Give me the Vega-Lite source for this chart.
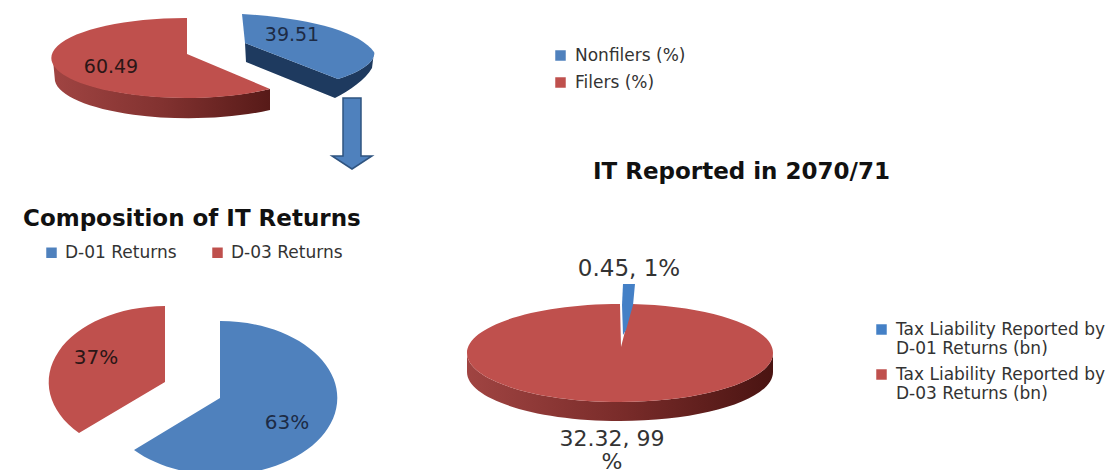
{
  "$schema": "https://vega.github.io/schema/vega-lite/v6.json",
  "background": "white",
  "padding": 0,
  "spacing": 0,
  "bounds": "flush",
  "config": {"view": {"stroke": null}, "concat": {"spacing": 0}},
  "resolve": {"scale": {"color": "independent", "shape": "independent"}, "legend": {"color": "independent"}},
  "datasets": {
    "filing": [
      {"category": "Nonfilers (%)", "value": 39.51},
      {"category": "Filers (%)", "value": 60.49}
    ],
    "returns": [
      {"category": "D-01 Returns", "value": 63, "label": "63%"},
      {"category": "D-03 Returns", "value": 37, "label": "37%"}
    ],
    "liability": [
      {"category": "Tax Liability Reported by D-01 Returns (bn)", "value": 0.45, "label": "0.45, 1%"},
      {"category": "Tax Liability Reported by D-03 Returns (bn)", "value": 32.32, "label": "32.32, 99\n%"}
    ]
  },
  "vconcat": [
    {
      "width": 1118,
      "height": 172,
      "data": {"name": "filing"},
      "layer": [
        {
          "transform": [{"filter": "datum.category === 'Filers (%)'"}],
          "mark": {"type": "point", "filled": true, "opacity": 1, "size": 4,
            "shape": "M-506,-26 A134,40 0 0 0 -289,3 L-289,24 A134,40 0 0 1 -504,-5 Z",
            "color": {"gradient": "linear", "x1": 0, "y1": 0, "x2": 1, "y2": 0, "stops": [
              {"offset": 0, "color": "#a04442"}, {"offset": 0.5, "color": "#823230"}, {"offset": 1, "color": "#571a18"}]}}
        },
        {
          "transform": [{"filter": "datum.category === 'Nonfilers (%)'"}],
          "mark": {"type": "point", "filled": true, "opacity": 1, "size": 4, "color": "#1e3a5f",
            "shape": "M-314,-43 L-313,-24 L-224,12 L-221,-7 Z M-221,-7 C-199,-14 -183,-24 -185,-34 L-187,-18 C-194,-6 -209,4 -224,12 Z"}
        },
        {
          "mark": {"type": "point", "filled": true, "opacity": 1, "size": 4},
          "encoding": {
            "color": {"field": "category", "type": "nominal", "title": null,
              "scale": {"domain": ["Nonfilers (%)", "Filers (%)"], "range": ["#4f81bd", "#bf504d"]},
              "legend": {"orient": "none", "legendX": 552, "legendY": 47, "symbolType": "square", "symbolSize": 110,
                "labelFont": "DejaVu Sans", "labelFontSize": 17, "labelColor": "#333333", "rowPadding": 9, "labelOffset": 6, "labelLimit": 300}},
            "shape": {"field": "value", "type": "nominal", "legend": null,
              "scale": {"domain": [39.51, 60.49], "range": [
                "M-314,-43 L-317,-72 C-249,-68 -199,-54 -185,-34 C-183,-24 -199,-14 -221,-7 Z",
                "M-372,-32 L-372,-68 A134,40 0 1 0 -289,3 Z"]}}
          }
        },
        {
          "transform": [{"filter": "datum.category === 'Nonfilers (%)'"}],
          "mark": {"type": "text", "font": "DejaVu Sans", "fontSize": 19, "color": "#1d2b45", "dx": -267, "dy": -51, "baseline": "middle"},
          "encoding": {"text": {"field": "value", "type": "quantitative", "format": ".2f"}}
        },
        {
          "transform": [{"filter": "datum.category === 'Filers (%)'"}],
          "mark": {"type": "text", "font": "DejaVu Sans", "fontSize": 19, "color": "#2b1616", "dx": -448, "dy": -19, "baseline": "middle"},
          "encoding": {"text": {"field": "value", "type": "quantitative", "format": ".2f"}}
        },
        {
          "data": {"values": [{"item": "arrow"}]},
          "mark": {"type": "point", "filled": true, "opacity": 1, "size": 4, "color": "#4f81bd", "stroke": "#2f5480", "strokeWidth": 1.5,
            "shape": "M-216,12 L-198,12 L-198,70 L-187,70 L-207,83 L-227,70 L-216,70 Z"},
          "encoding": {}
        }
      ]
    },
    {
      "spacing": 0,
      "bounds": "flush",
      "resolve": {"scale": {"color": "independent", "shape": "independent"}, "legend": {"color": "independent"}},
      "hconcat": [
        {
          "width": 440,
          "height": 298,
          "title": {"text": "Composition of IT Returns", "font": "DejaVu Sans", "fontWeight": "bold", "fontSize": 23, "color": "#111111",
            "anchor": "start", "frame": "group", "baseline": "alphabetic", "offset": -77, "dx": 23},
          "data": {"name": "returns"},
          "layer": [
            {
              "mark": {"type": "point", "filled": true, "opacity": 1, "size": 4, "clip": true},
              "encoding": {
                "color": {"field": "category", "type": "nominal", "title": null,
                  "scale": {"domain": ["D-01 Returns", "D-03 Returns"], "range": ["#4f81bd", "#bf504d"]},
                  "legend": {"orient": "none", "legendX": 43, "legendY": 72, "direction": "horizontal", "columns": 2, "symbolType": "square", "symbolSize": 110,
                    "labelFont": "DejaVu Sans", "labelFontSize": 17, "labelColor": "#333333", "labelOffset": 5, "columnPadding": 32, "labelLimit": 300}},
                "shape": {"field": "value", "type": "nominal", "legend": null,
                  "scale": {"domain": [63, 37], "range": [
                    "M0,77 L0,0 A117,77 0 1 1 -86,129 Z",
                    "M-55,61 L-55,-15 A117,76 0 0 0 -141,112 Z"]}}
              }
            },
            {
              "transform": [{"filter": "datum.category === 'D-01 Returns'"}],
              "mark": {"type": "text", "font": "DejaVu Sans", "fontSize": 20, "color": "#1d2b45", "dx": 67, "dy": 102, "baseline": "middle"},
              "encoding": {"text": {"field": "label", "type": "nominal"}}
            },
            {
              "transform": [{"filter": "datum.category === 'D-03 Returns'"}],
              "mark": {"type": "text", "font": "DejaVu Sans", "fontSize": 20, "color": "#2b1616", "dx": -124, "dy": 37, "baseline": "middle"},
              "encoding": {"text": {"field": "label", "type": "nominal"}}
            }
          ]
        },
        {
          "width": 678,
          "height": 298,
          "title": {"text": "IT Reported in 2070/71", "font": "DejaVu Sans", "fontWeight": "bold", "fontSize": 23, "color": "#111111",
            "anchor": "start", "frame": "group", "baseline": "alphabetic", "offset": -30, "dx": 153},
          "data": {"name": "liability"},
          "layer": [
            {
              "transform": [{"filter": "datum.value > 1"}],
              "mark": {"type": "point", "filled": true, "opacity": 1, "size": 4,
                "shape": "M-312,32 A153,49 0 0 0 -6,32 L-6,51 A153,49 0 0 1 -312,51 Z",
                "color": {"gradient": "linear", "x1": 0, "y1": 0, "x2": 1, "y2": 0, "stops": [
                  {"offset": 0, "color": "#a04442"}, {"offset": 0.5, "color": "#7a2c2a"}, {"offset": 1, "color": "#4a1412"}]}}
            },
            {
              "mark": {"type": "point", "filled": true, "opacity": 1, "size": 4},
              "encoding": {
                "order": {"field": "value", "type": "quantitative", "sort": "descending"},
                "color": {"field": "category", "type": "nominal", "title": null,
                  "scale": {"domain": ["Tax Liability Reported by D-01 Returns (bn)", "Tax Liability Reported by D-03 Returns (bn)"], "range": ["#4480c6", "#bf504d"]},
                  "legend": {"orient": "none", "legendX": 433, "legendY": 149, "symbolType": "square", "symbolSize": 110,
                    "labelFont": "DejaVu Sans", "labelFontSize": 17, "labelColor": "#333333", "labelOffset": 6, "rowPadding": 8, "labelLimit": 300,
                    "labelExpr": "[substring(datum.label,0,25), substring(datum.label,26)]"}},
                "shape": {"field": "value", "type": "nominal", "legend": null,
                  "scale": {"domain": [0.45, 32.32], "range": [
                    "M-156,-37 L-144,-37 L-146,-16 L-153,9 L-156,14 L-157,-16 Z",
                    "M-158,26 L-159,-17 A153,49 0 0 0 -312,32 A153,49 0 0 0 -6,32 A153,49 0 0 0 -147,-17 Z"]}}
              }
            },
            {
              "transform": [{"filter": "datum.value < 1"}],
              "mark": {"type": "text", "font": "DejaVu Sans", "fontSize": 23, "color": "#333333", "dx": -150, "dy": -52, "baseline": "middle"},
              "encoding": {"text": {"field": "label", "type": "nominal"}}
            },
            {
              "transform": [{"filter": "datum.value > 1"}],
              "mark": {"type": "text", "font": "DejaVu Sans", "fontSize": 22, "color": "#333333", "dx": -167, "dy": 125, "baseline": "alphabetic", "lineBreak": "\n", "lineHeight": 23},
              "encoding": {"text": {"field": "label", "type": "nominal"}}
            }
          ]
        }
      ]
    }
  ]
}
